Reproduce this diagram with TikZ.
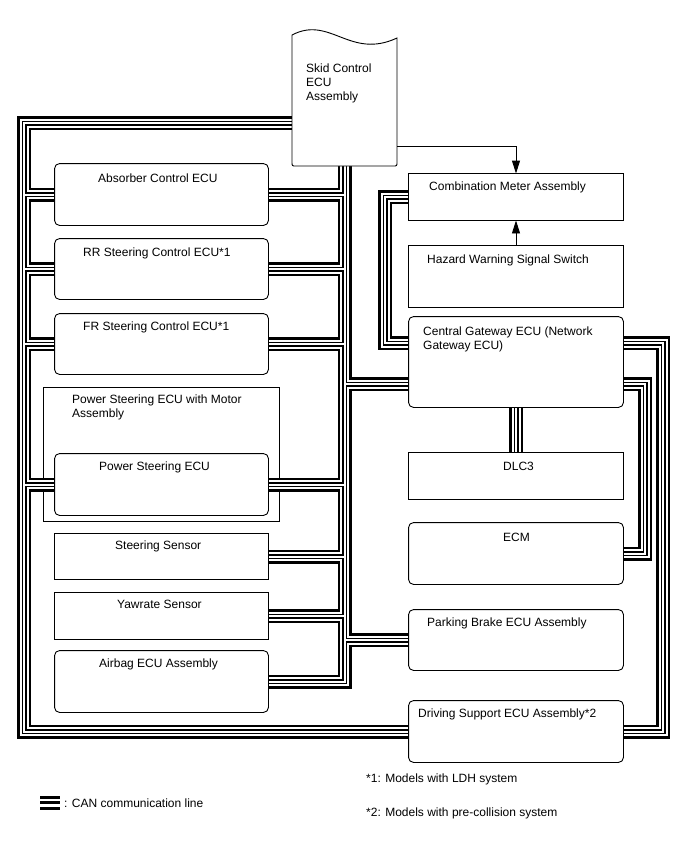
\documentclass[tikz,border=0pt]{standalone}
\usepackage{fontspec}
\setmainfont{Liberation Sans}
\usetikzlibrary{arrows.meta}
\begin{document}
\begin{tikzpicture}[x=1pt,y=-1pt,
  bx/.style={draw, fill=white, line width=0.9pt, inner sep=0pt},
  rbx/.style={bx, rounded corners=5pt},
  lbl/.style={inner sep=0pt, anchor=base west, font=\fontsize{12}{14}\selectfont},
  sig/.style={line width=0.9pt, -{Triangle[length=13pt,width=8pt]}},
]
\useasboundingbox (0,0) rectangle (688,852);

% outer box drawn before the bus (bus crosses its outline)
\node[bx, minimum width=236pt, minimum height=134pt] (psm) at (161,454) {};

% invisible node for Skid Control ECU
\node[inner sep=0pt, minimum width=105pt, minimum height=136pt] (skid) at (344.5,98) {};

% boxes (nodes only defined here; drawn later on top)
\path
  (161.5,194.5) node[rbx, minimum width=213pt, minimum height=61pt] (abs) {}
  (161.5,269)   node[rbx, minimum width=213pt, minimum height=60pt] (rr) {}
  (161.5,344)   node[rbx, minimum width=213pt, minimum height=60pt] (fr) {}
  (161.5,484.5) node[rbx, minimum width=213pt, minimum height=61pt] (ps) {}
  (161.5,556.5) node[bx,  minimum width=213pt, minimum height=45pt] (ss) {}
  (161.5,616)   node[bx,  minimum width=213pt, minimum height=46pt] (yaw) {}
  (161.5,681.5) node[rbx, minimum width=213pt, minimum height=61pt] (air) {}
  (516,197)     node[bx,  minimum width=214pt, minimum height=46pt] (cmb) {}
  (516,276.5)   node[bx,  minimum width=214pt, minimum height=61pt] (haz) {}
  (516,362)     node[rbx, minimum width=214pt, minimum height=90pt] (cgw) {}
  (516,476)     node[bx,  minimum width=214pt, minimum height=46pt] (dlc) {}
  (516,553.5)   node[rbx, minimum width=214pt, minimum height=61pt] (ecm) {}
  (516,640)     node[rbx, minimum width=214pt, minimum height=60pt] (pkb) {}
  (516,731.5)   node[rbx, minimum width=214pt, minimum height=61pt] (drv) {};

\coordinate (L)  at (24,123);
\coordinate (CB) at (385,0);
\coordinate (R1) at (645,0);
\coordinate (R2) at (663,0);
\coordinate (gU) at (0,343);
\coordinate (gL) at (0,384);
\coordinate (aY) at (0,146);

\def\canbus{
  (skid.west |- L) -- (L) -- (L |- drv.west) -- (drv.west)
  (L |- abs.west) -- (abs.west)
  (L |- rr.west) -- (rr.west)
  (L |- fr.west) -- (fr.west)
  (L |- ps.west) -- (ps.west)
  (skid.south) -- (skid.south |- air.east) -- (air.east)
  (abs.east) -- (abs.east -| skid.south)
  (rr.east) -- (rr.east -| skid.south)
  (fr.east) -- (fr.east -| skid.south)
  (ps.east) -- (ps.east -| skid.south)
  (ss.east) -- (ss.east -| skid.south)
  (yaw.east) -- (yaw.east -| skid.south)
  (skid.south |- gL) -- (cgw.west |- gL)
  (skid.south |- pkb.west) -- (pkb.west)
  (cmb.west) -- (CB |- cmb.west) -- (CB |- gU) -- (cgw.west |- gU)
  (cgw.east |- gU) -- (R2 |- gU) -- (R2 |- drv.east) -- (drv.east)
  (cgw.east |- gL) -- (R1 |- gL) -- (R1 |- ecm.east) -- (ecm.east)
  (cgw.south) -- (dlc.north)
}
\foreach \w/\c in {14pt/black, 9pt/white, 5pt/black, 2pt/white}
  \draw[line width=\w, \c, line join=miter] \canbus;

% redraw boxes on top
\foreach \n in {abs,rr,fr,ps,air,cgw,ecm,pkb,drv}
  \draw[line width=0.9pt, fill=white, rounded corners=5pt] (\n.south west) rectangle (\n.north east);
\foreach \n in {ss,yaw,cmb,haz,dlc}
  \draw[line width=0.9pt, fill=white] (\n.south west) rectangle (\n.north east);

% Skid Control ECU shape
\draw[line width=0.9pt, fill=white]
  (292,35) -- (292,162) .. controls (292,166) .. (296,166) -- (393,166)
  .. controls (397,166) .. (397,162) -- (397,38)
  .. controls (350,60) and (330,15) .. (292,35) -- cycle;

% signal arrows
\draw[sig] (skid.east |- aY) -- (cmb.north |- aY) -- (cmb.north);
\draw[sig] (haz.north) -- (cmb.south);

% labels
\node[lbl] (t1) at (306,72.5) {Skid Control};
\node[lbl] (t2) at (306,86.5) {ECU};
\node[lbl] (t3) at (306,100.5) {Assembly};
\node[lbl] (t4) at (98,182.5) {Absorber Control ECU};
\node[lbl] (t5) at (83,256) {RR Steering Control ECU*1};
\node[lbl] (t6) at (83,330) {FR Steering Control ECU*1};
\node[lbl] (t7) at (72,403.5) {Power Steering ECU with Motor};
\node[lbl] (t8) at (72,417.5) {Assembly};
\node[lbl] (t9) at (99,470) {Power Steering ECU};
\node[lbl] (t10) at (115,549) {Steering Sensor};
\node[lbl] (t11) at (117,608) {Yawrate Sensor};
\node[lbl] (t12) at (99,667) {Airbag ECU Assembly};
\node[lbl] (t13) at (429,190) {Combination Meter Assembly};
\node[lbl] (t14) at (427,263) {Hazard Warning Signal Switch};
\node[lbl] (t15) at (423,335) {Central Gateway ECU (Network};
\node[lbl] (t16) at (423,349.5) {Gateway ECU)};
\node[lbl] (t17) at (503,470) {DLC3};
\node[lbl] (t18) at (503,541) {ECM};
\node[lbl] (t19) at (427,626) {Parking Brake ECU Assembly};
\node[lbl] (t20) at (418,717) {Driving Support ECU Assembly*2};
\node[lbl] (t21) at (366,782) {*1: Models with LDH system};
\node[lbl] (t22) at (366,816) {*2: Models with pre-collision system};
\node[lbl] (t23) at (64,807) {: CAN communication line};

% legend symbol
\coordinate (lg1) at (40,797);
\coordinate (lg2) at (60,797);
\draw[line width=3pt] (lg1) -- (lg2) ([yshift=-5.5pt]lg1) -- ([yshift=-5.5pt]lg2) ([yshift=-11pt]lg1) -- ([yshift=-11pt]lg2);
\end{tikzpicture}
\end{document}
